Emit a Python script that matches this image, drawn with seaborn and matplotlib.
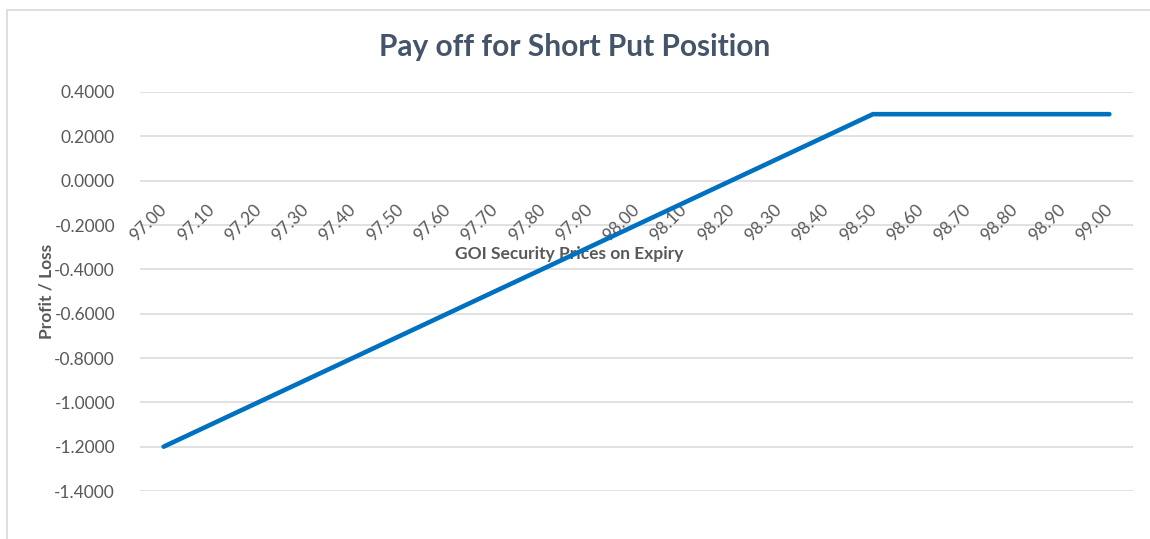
import matplotlib
matplotlib.use('Agg')
import matplotlib.pyplot as plt
import matplotlib.transforms as mtrans
import seaborn as sns
import pandas as pd
from matplotlib.patches import Rectangle

# data
prices = ["97.00", "97.10", "97.20", "97.30", "97.40", "97.50", "97.60",
          "97.70", "97.80", "97.90", "98.00", "98.10", "98.20", "98.30",
          "98.40", "98.50", "98.60", "98.70", "98.80", "98.90", "99.00"]
payoff = [-1.2, -1.1, -1.0, -0.9, -0.8, -0.7, -0.6, -0.5, -0.4, -0.3,
          -0.2, -0.1, 0.0, 0.1, 0.2, 0.3, 0.3, 0.3, 0.3, 0.3, 0.3]
y_ticks = [0.4, 0.2, 0.0, -0.2, -0.4, -0.6, -0.8, -1.0, -1.2, -1.4]

df = pd.DataFrame({"price": prices, "payoff": payoff})
df["pos"] = range(len(prices))

sns.set_theme(style="white")
plt.rcParams['font.family'] = ['Lato', 'DejaVu Sans']

text_col = "#595959"
grid_col = "#D9D9D9"

fig = plt.figure(figsize=(11.5, 5.39), dpi=100)
ax = fig.add_axes([140 / 1150, 1 - 491 / 539, 993 / 1150, 399 / 539])

for y in y_ticks:
    ax.axhline(y, color=grid_col, lw=1.1, zorder=0)

sns.lineplot(data=df, x="pos", y="payoff", color="#0070C0", linewidth=3.3,
             solid_capstyle="round", ax=ax, zorder=3)

# x axis labels sit on the zero line, like Excel
ax.spines['bottom'].set_position(('data', 0))
for s in ax.spines.values():
    s.set_visible(False)

ax.set_xlim(-0.5, len(prices) - 0.5)
ax.set_ylim(-1.4, 0.4)
ax.set_yticks(y_ticks)
ax.set_yticklabels([f"{v:.4f}" for v in y_ticks], color=text_col, fontsize=12.5)
ax.set_xticks(df["pos"])
ax.set_xticklabels(prices, rotation=45, ha="right", va="top",
                   rotation_mode="anchor", color=text_col, fontsize=12.5)
ax.tick_params(axis="both", length=0)
ax.tick_params(axis="x", pad=10)
ax.tick_params(axis="y", pad=18)

shift = mtrans.ScaledTranslation(-5 / 100, -7 / 100, fig.dpi_scale_trans)
for lab in ax.get_xticklabels():
    lab.set_transform(lab.get_transform() + shift)

ax.set_xlabel("GOI Security Prices on Expiry", fontsize=12.5, fontweight="bold",
              color=text_col)
ax.xaxis.set_label_coords((569 - 140) / 993, (0.0 + 1.4) / 1.8 - 65 / 399)
ax.set_ylabel("Profit / Loss", fontsize=12.5, fontweight="bold", color=text_col)
ax.yaxis.set_label_coords(-(140 - 55) / 993, 0.5)

fig.text(0.5, 1 - 47 / 539, "Pay off for Short Put Position", ha="center",
         va="center", fontsize=21.5, fontweight="bold", color="#44546A")

fig.patches.append(Rectangle((7 / 1150, -0.1), 1.2, 1 - 10 / 539 + 0.1,
                             transform=fig.transFigure, fill=False,
                             edgecolor=grid_col, lw=1.2, zorder=0))

fig.savefig("out.png", dpi=100)
plt.close(fig)
